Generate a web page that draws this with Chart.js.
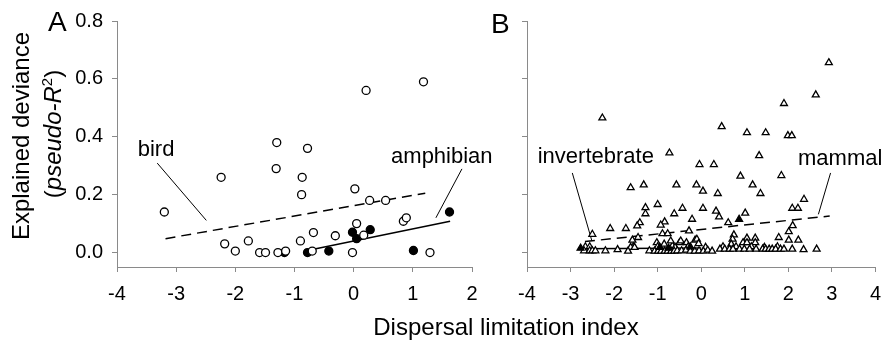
<!DOCTYPE html>
<html>
<head>
<meta charset="utf-8">
<script src="https://cdn.jsdelivr.net/npm/chart.js@4.4.1/dist/chart.umd.min.js"></script>
<style>
  body { margin: 0; background: #fff; font-family: "Liberation Sans", Arial, sans-serif; }
  #wrap { position: relative; width: 891px; height: 343px; overflow: hidden; }
  canvas { position: absolute; top: 0; }
  .t { position: absolute; color: #000; white-space: nowrap; line-height: 1; }
  .rot { transform: translate(-50%, -50%) rotate(-90deg); font-size: 24px; line-height: 24px; }
</style>
</head>
<body>
<div id="wrap">
  <canvas id="chartA" width="520" height="343" style="left:0"></canvas>
  <canvas id="chartB" width="411" height="343" style="left:480px"></canvas>
  <div class="t" style="left:48px;top:8px;font-size:28px;line-height:28px">A</div>
  <div class="t" style="left:491px;top:10px;font-size:28px;line-height:28px">B</div>
  <div class="t rot" style="left:21px;top:136px">Explained deviance</div>
  <div class="t rot" style="left:50px;top:134px">(<i>pseudo-R</i><sup style="font-size:15px">2</sup>)</div>
  <div class="t" style="left:506px;top:315px;font-size:24px;line-height:24px;transform:translateX(-50%)">Dispersal limitation index</div>
</div>
<script>
// tick values
const xTicksA = [-4, -3, -2, -1, 0, 1, 2];
const xTicksB = [-4, -3, -2, -1, 0, 1, 2, 3, 4];
const yTicks = [0, 0.2, 0.4, 0.6, 0.8];

// panel A: birds (open) and amphibians (filled)
const bird = [[-3.2,0.14],[-2.24,0.26],[-2.18,0.03],[-2.0,0.005],[-1.78,0.04],[-1.59,0],[-1.49,0],
  [-1.30,0.38],[-1.31,0.29],[-1.28,0],[-1.15,0.005],[-0.78,0.36],[-0.87,0.26],[-0.88,0.20],
  [-0.90,0.04],[-0.70,0.005],[-0.68,0.069],[-0.31,0.058],[-0.02,0],[0.02,0.22],[0.05,0.10],
  [0.17,0.06],[0.21,0.56],[0.27,0.18],[0.54,0.18],[0.84,0.108],[0.89,0.12],[1.18,0.59],[1.29,0]];
const amphibian = [[-0.78,0],[-1.17,0],[-0.42,0.005],[-0.02,0.07],[0.05,0.048],[0.28,0.079],[1.01,0.007],[1.62,0.14]];
const birdFit = [[-3.18,0.048],[1.21,0.205]];
const amphibianFit = [[-0.68,0.011],[1.63,0.108]];
const birdCallout = [[-3.32,0.309],[-2.49,0.111]];
const amphibianCallout = [[1.83,0.289],[1.39,0.12]];
const labelsA = [['bird', -3.34, 0.334], ['amphibian', 1.49, 0.311]];

// panel B: mammals (open) and invertebrates (filled)
const mammal = [[2.93,0.656],[2.63,0.545],[1.90,0.515],[-2.27,0.465],[0.47,0.435],[1.05,0.414],[1.48,0.414],
  [1.99,0.404],[2.08,0.404],[-0.73,0.344],[1.33,0.335],[-0.04,0.304],[0.29,0.304],[0.90,0.264],[1.84,0.266],
  [-1.62,0.224],[-1.32,0.234],[-0.57,0.234],[-0.11,0.234],[1.18,0.234],[0.04,0.212],[0.38,0.204],[1.36,0.204],
  [2.36,0.184],[-1.0,0.166],[-1.28,0.155],[-0.43,0.153],[0.04,0.153],[2.09,0.153],[2.22,0.153],
  [-1.28,0.134],[-0.62,0.134],[0.34,0.143],[1.01,0.136],[0.41,0.123],[-0.21,0.115],[-1.41,0.103],
  [-0.84,0.106],[0.62,0.103],[-1.47,0.092],[-0.93,0.095],[2.10,0.093],[-2.09,0.083],[-1.73,0.083],
  [-0.28,0.075],[2.01,0.072],[-2.50,0.063],[-0.89,0.065],[-0.77,0.065],[0.75,0.061],[-1.45,0.052],
  [1.78,0.052],[1.05,0.05],[1.24,0.05],[0.72,0.046],[-1.58,0.043],[-0.14,0.043],[2.01,0.043],[2.23,0.043],
  [-0.10,0.046],[-1.02,0.034],[-0.50,0.034],[-0.34,0.034],[0.96,0.034],[1.05,0.034],[1.24,0.034],
  [-0.85,0.029],[-0.06,0.031],[0.69,0.029],[-0.66,0.023],[-1.56,0.02],[-0.70,0.04],[-0.47,0.04],
  [-2.66,0.02],[-2.56,0.02],[-1.62,0.018],[-1.53,0.018],[-1.0,0.02],[-0.6,0.018],[-0.3,0.02],[0.1,0.018],
  [0.5,0.02],[0.8,0.02],[1.15,0.02],[1.45,0.018],[1.75,0.02],
  [-2.69,0.006],[-2.56,0.006],[-2.50,0.006],[-2.43,0.006],[-2.20,0.006],[-1.92,0.01],[-1.68,0.005],
  [-1.19,0.006],[-1.07,0.005],[-0.99,0.005],[-0.92,0.005],[-0.84,0.005],[-0.77,0.005],[-0.69,0.005],
  [-0.62,0.005],[-0.55,0.006],[-0.45,0.006],[-0.35,0.008],[-0.25,0.005],[-0.15,0.005],[-0.05,0.006],
  [0.05,0.005],[0.15,0.008],[0.25,0.005],[0.43,0.012],[0.54,0.012],[0.65,0.012],[0.73,0.012],[0.88,0.012],
  [0.99,0.012],[1.11,0.012],[1.26,0.012],[1.41,0.012],[1.48,0.012],[1.56,0.012],[1.63,0.012],[1.71,0.012],
  [1.82,0.012],[1.90,0.012],[2.09,0.012],[2.35,0.01],[2.65,0.012]];
const invertebrate = [[-2.77,0.015],[-0.95,0.018],[-0.75,0.015],[-0.25,0.02],[0.87,0.115]];
const mammalFit = [[-2.67,0.038],[2.95,0.126]];
const invertebrateFit = [[-2.8,0.013],[0.0,0.016]];
const invertebrateCallout = [[-2.96,0.275],[-2.51,0.04]];
const mammalCallout = [[2.97,0.275],[2.69,0.132]];
const labelsB = [['invertebrate', -2.42, 0.31], ['mammal', 3.19, 0.304]];

const FONT = '"Liberation Sans", Arial, sans-serif';
const AXIS = '#8a8a8a';

function pts(arr) { return arr.map(p => ({ x: p[0], y: p[1] })); }

function pointSet(arr, style, fill) {
  return { data: pts(arr), pointStyle: style, pointRadius: 4, pointHoverRadius: 4,
    backgroundColor: fill, borderColor: '#000', borderWidth: 1.3, showLine: false, order: 0 };
}
function lineSet(arr, width, dash) {
  return { data: pts(arr), showLine: true, pointRadius: 0, borderColor: '#000',
    borderWidth: width, borderDash: dash, fill: false, order: 1 };
}

function textPlugin(items) {
  return {
    id: 'txt',
    afterDatasetsDraw(chart) {
      const ctx = chart.ctx, sx = chart.scales.x, sy = chart.scales.y;
      ctx.save();
      ctx.font = '22px ' + FONT;
      ctx.fillStyle = '#000';
      ctx.textAlign = 'center';
      ctx.textBaseline = 'alphabetic';
      items.forEach(it => ctx.fillText(it[0], sx.getPixelForValue(it[1]), sy.getPixelForValue(it[2])));
      ctx.restore();
    }
  };
}

function makeChart(id, datasets, xTicks, xMin, xMax, yWidth, showY, padRight, labels) {
  return new Chart(document.getElementById(id), {
    type: 'scatter',
    data: { datasets: datasets },
    plugins: [textPlugin(labels)],
    options: {
      responsive: false,
      animation: false,
      events: [],
      layout: { padding: { top: 19, right: padRight, bottom: 0, left: 0 } },
      plugins: { legend: { display: false }, tooltip: { enabled: false } },
      scales: {
        x: {
          type: 'linear', min: xMin, max: xMax,
          afterBuildTicks: s => { s.ticks = xTicks.map(v => ({ value: v })); },
          afterFit: s => { s.height = 76; },
          ticks: { color: '#000', font: { family: FONT, size: 20 }, padding: 10, maxRotation: 0,
            callback: v => String(v) },
          grid: { drawOnChartArea: false, drawTicks: true, tickLength: 5, color: AXIS },
          border: { display: true, color: AXIS, width: 1 }
        },
        y: {
          type: 'linear', min: -0.05, max: 0.8,
          afterBuildTicks: s => { s.ticks = yTicks.map(v => ({ value: v })); },
          afterFit: s => { s.width = yWidth; },
          ticks: { color: '#000', font: { family: FONT, size: 20 }, padding: 9,
            callback: v => showY ? v.toFixed(1) : '' },
          grid: { drawOnChartArea: false, drawTicks: true, tickLength: 5, color: AXIS },
          border: { display: true, color: AXIS, width: 1 }
        }
      }
    }
  });
}

makeChart('chartA', [
  pointSet(bird, 'circle', '#fff'),
  pointSet(amphibian, 'circle', '#000'),
  lineSet(birdFit, 1.5, [10, 6]),
  lineSet(amphibianFit, 1.5, []),
  lineSet(birdCallout, 1, []),
  lineSet(amphibianCallout, 1, [])
], xTicksA, -4, 2, 117, true, 48, labelsA);

makeChart('chartB', [
  pointSet(invertebrate, 'triangle', '#000'),
  pointSet(mammal, 'triangle', '#fff'),
  lineSet(mammalFit, 1.5, [10, 6]),
  lineSet(invertebrateFit, 1.5, []),
  lineSet(invertebrateCallout, 1, []),
  lineSet(mammalCallout, 1, [])
], xTicksB, -4, 4, 47, false, 9, labelsB);
</script>
</body>
</html>
